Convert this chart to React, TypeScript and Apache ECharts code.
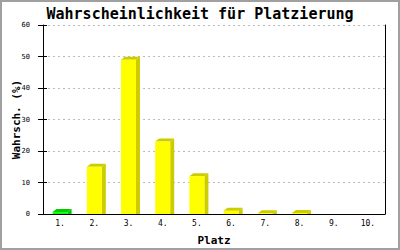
import React, { useEffect, useRef } from "react";
import * as echarts from "echarts";

const categories = ["1.", "2.", "3.", "4.", "5.", "6.", "7.", "8.", "9.", "10."];
const values = [0.6, 15, 49, 23, 12, 1, 0.2, 0.3, 0, 0];
const highlightIndex = 0;
const yTicks = { min: 0, max: 60, interval: 10 };

const MONO = "'DejaVu Sans Mono', monospace";

export default function App() {
  const ref = useRef<HTMLDivElement>(null);
  useEffect(() => {
    if (!ref.current) return;
    const chart = echarts.init(ref.current, null, { renderer: "svg" });
    const data = values.map((v, i) => [i, v]);
    chart.setOption({
      animation: false,
      backgroundColor: "#ffffff",
      title: {
        text: "Wahrscheinlichkeit für Platzierung",
        left: "center",
        top: 1,
        textStyle: { fontFamily: MONO, fontWeight: "bold", fontSize: 15, color: "#000" },
      },
      graphic: [
        {
          type: "rect",
          shape: { x: 1, y: 1, width: 398, height: 248 },
          style: { fill: "none", stroke: "#a0a0a0", lineWidth: 2 },
          silent: true,
          z: 100,
        },
      ],
      grid: { left: 43, right: 15, top: 25, bottom: 36, containLabel: false, outerBoundsMode: "none" },
      xAxis: {
        type: "category",
        data: categories,
        boundaryGap: true,
        name: "Platz",
        nameLocation: "middle",
        nameGap: 21,
        nameMoveOverlap: false,
        nameTextStyle: { fontFamily: MONO, fontWeight: "bold", fontSize: 11, color: "#000" },
        axisLine: { lineStyle: { color: "#000", width: 1 } },
        axisTick: { show: false },
        axisLabel: { fontFamily: MONO, fontSize: 8, color: "#000", margin: 5 },
        splitLine: { show: false },
      },
      yAxis: [
        {
          type: "value",
          min: yTicks.min,
          max: yTicks.max,
          interval: yTicks.interval,
          position: "left",
          name: "Wahrsch. (%)",
          nameLocation: "middle",
          nameGap: 21,
          nameMoveOverlap: false,
          nameTextStyle: { fontFamily: MONO, fontWeight: "bold", fontSize: 11, color: "#000" },
          axisLine: { show: true, lineStyle: { color: "#000", width: 1 } },
          axisTick: { show: true, length: 5, lineStyle: { color: "#000" } },
          axisLabel: { fontFamily: MONO, fontSize: 7, color: "#000", margin: 13 },
          splitLine: { show: true, lineStyle: { color: "#bbbbbb", type: [2, 3], width: 1 } },
        },
        {
          type: "value",
          min: yTicks.min,
          max: yTicks.max,
          interval: yTicks.interval,
          position: "left",
          axisLine: { show: false },
          axisTick: { show: true, inside: true, length: 4, lineStyle: { color: "#000" } },
          axisLabel: { show: false },
          splitLine: { show: false },
        },
        {
          type: "value",
          min: yTicks.min,
          max: yTicks.max,
          interval: yTicks.interval,
          position: "right",
          axisLine: { show: true, lineStyle: { color: "#000", width: 1 } },
          axisTick: { show: false },
          axisLabel: { show: false },
          splitLine: { show: false },
        },
      ],
      series: [
        {
          type: "custom",
          encode: { x: 0, y: 1 },
          data,
          renderItem: (params: any, api: any) => {
            const idx = api.value(0);
            const v = api.value(1);
            if (!(v > 0)) return null;
            const [cx, yv] = api.coord([idx, v]);
            const [, y0] = api.coord([idx, 0]);
            const w = 15;
            const dx = 4;
            const dy = 3;
            const x0 = cx - w / 2;
            const hl = params.dataIndex === highlightIndex;
            const front = hl ? "#00ff00" : "#ffff00";
            const dark = hl ? "#00cc00" : "#cccc00";
            return {
              type: "group",
              children: [
                {
                  type: "polygon",
                  shape: { points: [[x0 + w, yv], [x0 + w + dx, yv - dy], [x0 + w + dx, y0], [x0 + w, y0]] },
                  style: { fill: dark },
                },
                {
                  type: "polygon",
                  shape: { points: [[x0, yv], [x0 + dx, yv - dy], [x0 + w + dx, yv - dy], [x0 + w, yv]] },
                  style: { fill: dark },
                },
                {
                  type: "rect",
                  shape: { x: x0, y: yv, width: w, height: y0 - yv },
                  style: { fill: front },
                },
              ],
            };
          },
        },
      ],
    });
    return () => chart.dispose();
  }, []);
  return (
    <div
      ref={ref}
      style={{ position: "fixed", left: 0, top: 0, width: 400, height: 250 }}
    />
  );
}
